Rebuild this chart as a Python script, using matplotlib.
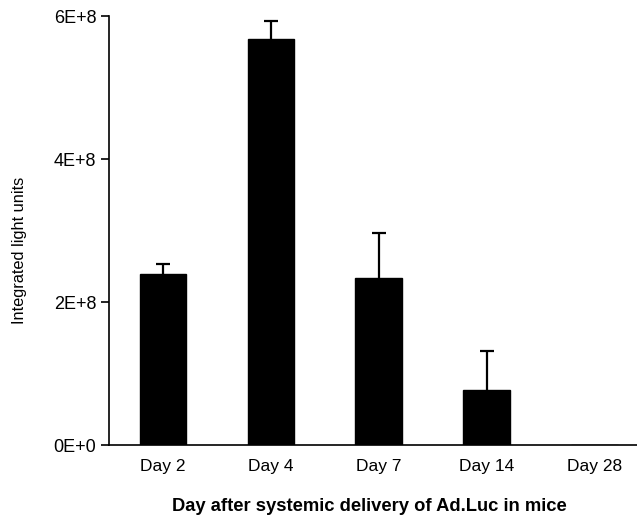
import matplotlib.pyplot as plt

# Values
days = ['Day 2', 'Day 4', 'Day 7', 'Day 14', 'Day 28']
light_units = [2.39e8, 5.68e8, 2.34e8, 0.77e8, 0.0]
errors_up = [0.14e8, 0.25e8, 0.62e8, 0.55e8, 0.0]

plt.rcParams['font.family'] = ['Liberation Sans', 'DejaVu Sans']

fig = plt.figure(figsize=(6.37, 5.17), dpi=100)
ax = fig.add_axes([0.171, 0.139, 0.84, 0.830])

x = list(range(len(days)))
ax.bar(x, light_units, width=0.43, color='black', edgecolor='black', zorder=2)

# errorbars sit behind the bars so only the upper half shows
ax.errorbar(x[:4], light_units[:4], yerr=errors_up[:4], fmt='none',
            ecolor='black', elinewidth=1.6, capsize=5, capthick=1.6, zorder=1)

ax.set_xlim(-0.5, 4.46)
ax.set_ylim(0, 6e8)
ax.set_yticks([0, 2e8, 4e8, 6e8])
ax.set_yticklabels(['0E+0', '2E+8', '4E+8', '6E+8'], fontsize=13)
ax.set_xticks(x)
ax.set_xticklabels(days, fontsize=12.5)
ax.tick_params(axis='x', length=0, pad=10)
ax.tick_params(axis='y', length=6, width=1.2, direction='out', pad=3)

for side in ['top', 'right']:
    ax.spines[side].set_visible(False)
for side in ['left', 'bottom']:
    ax.spines[side].set_linewidth(1.2)
    ax.spines[side].set_zorder(3)

ax.set_ylabel('Integrated light units', fontsize=11.8)
ax.yaxis.set_label_coords(-0.153, 0.455)
ax.set_xlabel('Day after systemic delivery of Ad.Luc in mice', fontsize=13.2,
              fontweight='bold', labelpad=17)
ax.xaxis.label.set_x(0.486)

fig.savefig('out.png', dpi=100)
